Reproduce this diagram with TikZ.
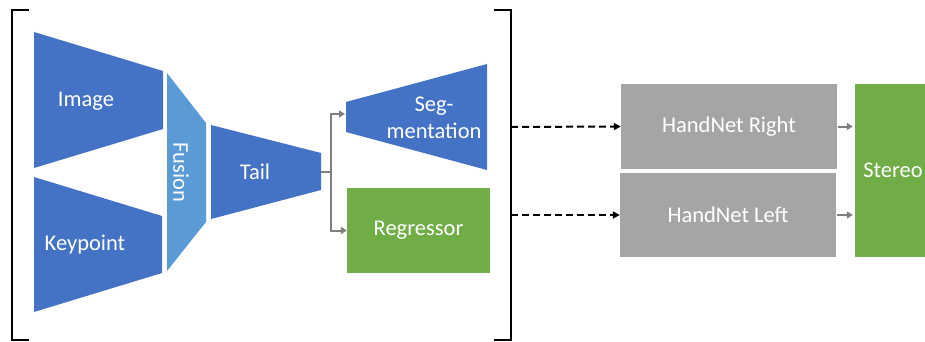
\documentclass[tikz,border=0pt]{standalone}
\usepackage{fontspec}
\setmainfont{Carlito}
\usetikzlibrary{
  positioning,
  arrows.meta,
  calc
}
\definecolor{encBlue}{HTML}{4472C4}
\definecolor{fuseBlue}{HTML}{5B9BD5}
\definecolor{headGreen}{HTML}{70AD47}
\definecolor{netGray}{HTML}{A5A5A5}
\definecolor{linkGray}{HTML}{7F7F7F}
\tikzset{
  lbl/.style      = {text=white, font=\fontsize{22.5}{27}\selectfont,
                     align=center, inner sep=0pt},
  netbox/.style   = {rectangle, fill=netGray, minimum width=216pt,
                     minimum height=85pt, lbl},
  greenbox/.style = {rectangle, fill=headGreen, lbl},
  link/.style     = {-{Triangle[length=6pt, width=7pt]}, line width=2pt,
                     draw=linkGray},
  dashlink/.style = {-{Triangle[length=7pt, width=7pt]}, line width=2pt,
                     dash pattern=on 7pt off 4pt, draw=black},
  bracket/.style  = {line width=2pt, draw=black}
}

\begin{document}
\begin{tikzpicture}[x=1pt, y=-1pt]
\useasboundingbox (0,0) rectangle (925,342);

% encoders, fusion, tail and segmentation head
\fill[encBlue]  (34,32) -- (163,71) -- (163,129) -- (34,168) -- cycle;
\fill[encBlue]  (34,177) -- (162,216) -- (162,273) -- (34,312) -- cycle;
\fill[fuseBlue] (167,73) -- (206,123) -- (206,222) -- (167,271) -- cycle;
\fill[encBlue]  (211,125) -- (321,153) -- (321,190) -- (211,219) -- cycle;
\fill[encBlue]  (346,102) -- (487,64) -- (487,170) -- (346,132) -- cycle;

\node[lbl] (image)    at (86,101)  {Image};
\node[lbl] (keypoint) at (85,245)  {Keypoint};
\node[lbl, rotate=-90] (fusion) at (181,172) {Fusion};
\node[lbl] (tail)     at (255,172) {Tail};
\node[lbl] (seg)      at (434,118) {Seg-\\mentation};

\node[greenbox, minimum width=143pt, minimum height=85pt]
  (regressor) at (418.5,230.5) {Regressor};

% brackets
\draw[bracket] (29,10) -- (12,10) -- (12,340) -- (29,340);
\draw[bracket] (494,10) -- (511,10) -- (511,340) -- (494,340);

\node[netbox] (right) at (729,126.5) {HandNet Right};
\node[netbox, minimum height=84pt] (left) at (728,215) {HandNet Left};
\node[greenbox, minimum width=76pt, minimum height=173pt]
  (stereo) at (893,170.5) {Stereo};

\coordinate (tailout) at (321,172);
\coordinate (split)   at (331,172);
\coordinate (segin)   at (345,114);
\coordinate (outR)    at (511,127);
\coordinate (outL)    at (511,215);

\draw[link] (tailout) -- (split) |- (segin);
\draw[link] (split) |- (regressor.west);
\draw[dashlink] (outR) -- (right.west);
\draw[dashlink] (outL) -- (left.west);
\draw[link, shorten <=1pt, shorten >=2pt] (right.east) -- (right.east -| stereo.west);
\draw[link, shorten <=1pt, shorten >=2pt] (left.east) -- (left.east -| stereo.west);
\end{tikzpicture}
\end{document}
